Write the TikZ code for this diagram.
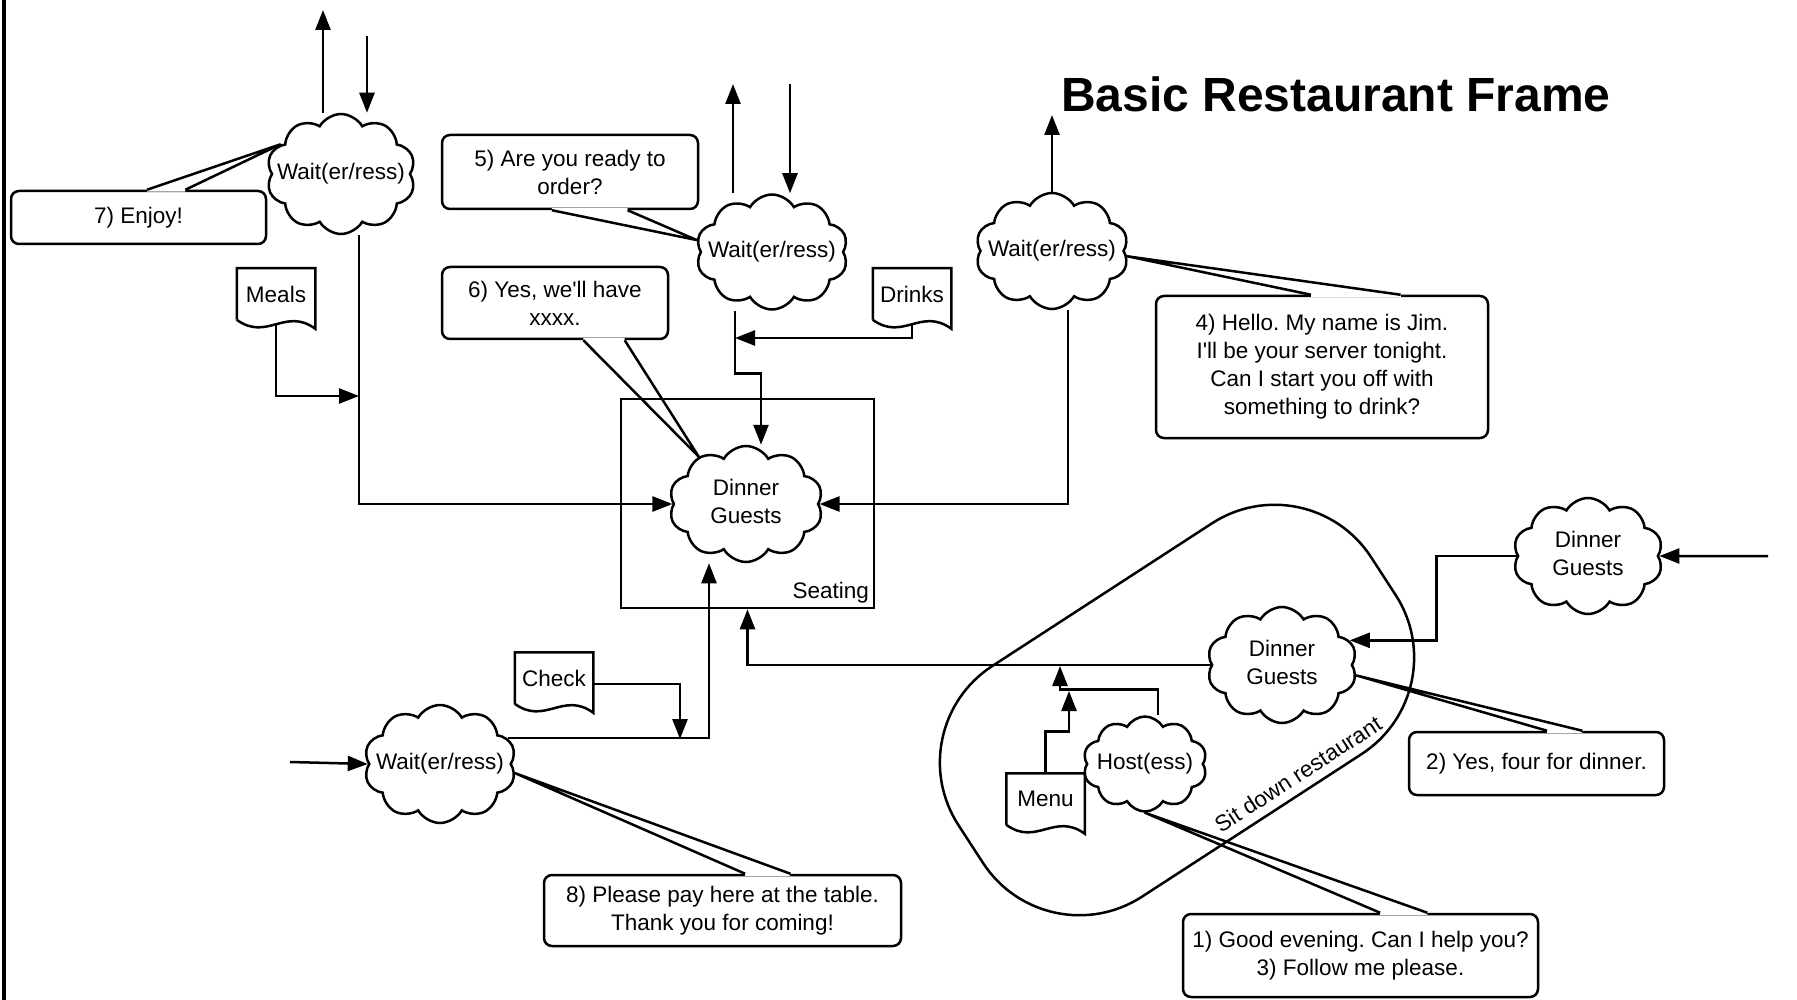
\documentclass[tikz,border=0pt]{standalone}
\usepackage{fontspec}
\setmainfont{Liberation Sans}
\usepackage{tikz}
\usetikzlibrary{arrows.meta,shapes.symbols,calc}
\frenchspacing
\tikzstyle{arr}=[->,>={Triangle[length=20pt,width=15pt]}]
\tikzstyle{wolk}=[draw,cloud,cloud puffs=10,cloud puff arc=120,cloud ignores aspect,inner sep=0,minimum width=150,minimum height=116]
\tikzstyle{bubble}=[draw,rounded corners=8,align=center,inner sep=0]
\tikzstyle{docbox}=[minimum width=76,minimum height=49,inner sep=0]
\newcommand{\ctxt}[1]{\makebox[0pt]{\begin{tabular}{@{}c@{}}#1\end{tabular}}}
\newcommand{\docnode}[3]{\node[docbox] (#1) at (#2) {#3};
  \draw (#1.south west) -- (#1.north west) -- (#1.north east) -- ([yshift=-9pt]#1.south east)
    .. controls +(-30,-22) and +(30,22) .. (#1.south west);}
\newcommand{\tail}[5]{\draw[white,line width=4pt] ($(#1.#2 west)!#3!(#1.#2 east)$) -- ($(#1.#2 west)!#4!(#1.#2 east)$);
  \draw[line join=round] ($(#1.#2 west)!#3!(#1.#2 east)$) -- (#5) -- ($(#1.#2 west)!#4!(#1.#2 east)$);}

\begin{document}
\begin{tikzpicture}[x=1pt,y=-1pt,line width=2.5pt,font=\fontsize{22.5}{28}\selectfont]
  \useasboundingbox (0,0) rectangle (1797,1000);
  \draw[line width=4pt] (4,0) -- (4,1000);
  \node[font=\fontsize{48}{56}\selectfont\bfseries] (title) at (1336,94) {Basic Restaurant Frame};

  % restaurant and seating
  \node[draw,rounded corners=115,minimum width=492,minimum height=275,rotate=33] (rest) at (1177,710) {};
  \node[rotate=33] (sdr) at (1298,774) {Sit down restaurant};
  \node[draw,minimum width=253,minimum height=209,
        label={[anchor=south east,inner sep=5pt]south east:Seating}] (seat) at (747.5,503.5) {};

  \node[wolk,minimum width=149,minimum height=120] (w1) at (341,174) {\ctxt{Wait(er/ress)}};
  \node[wolk,minimum width=152,minimum height=115] (w2) at (772,252) {\ctxt{Wait(er/ress)}};
  \node[wolk,minimum width=153,minimum height=116] (w3) at (1052,251) {\ctxt{Wait(er/ress)}};
  \node[wolk,minimum width=152,minimum height=118] (w4) at (440,764) {\ctxt{Wait(er/ress)}};
  \node[wolk,minimum width=154,minimum height=116] (dg1) at (746,504) {\ctxt{Dinner\\Guests}};
  \node[wolk] (dg2) at (1282,665) {\ctxt{Dinner\\Guests}};
  \node[wolk] (dg3) at (1588,556) {\ctxt{Dinner\\Guests}};
  \node[wolk,minimum width=124,minimum height=95] (host) at (1145,764) {\ctxt{Host(ess)}};

  \docnode{meals}{276,294}{Meals}
  \docnode{drinks}{912,294}{Drinks}
  \docnode{check}{554,678}{Check}
  \docnode{menu}{1045.5,799}{Menu}

  \node[bubble,minimum width=255,minimum height=53] (b7) at (138.5,217.5) {7) Enjoy!};
  \node[bubble,minimum width=256,minimum height=74] (b5) at (570,172) {5) Are you ready to\\order?};
  \node[bubble,minimum width=226,minimum height=72] (b6) at (555,303) {6) Yes, we\textquotesingle ll have\\xxxx.};
  \node[bubble,minimum width=332,minimum height=142] (b4) at (1322,367)
    {4) Hello. My name is Jim.\\I\textquotesingle ll be your server tonight.\\Can I start you off with\\something to drink?};
  \node[bubble,minimum width=255,minimum height=63] (b2) at (1536.5,763.5) {2) Yes, four for dinner.};
  \node[bubble,minimum width=355,minimum height=83] (b13) at (1360.5,955.5) {1) Good evening. Can I help you?\\3) Follow me please.};
  \node[bubble,minimum width=357,minimum height=71] (b8) at (722.5,910.5) {8) Please pay here at the table.\\Thank you for coming!};

  \tail{b7}{north}{0.533}{0.682}{w1.154}
  \tail{b5}{south}{0.43}{0.723}{w2.171}
  \tail{b6}{south}{0.624}{0.805}{dg1.135}
  \tail{b4}{north}{0.467}{0.735}{w3.-4}
  \tail{b2}{north}{0.541}{0.678}{dg2.-8}
  \tail{b13}{north}{0.555}{0.687}{host.south}
  \tail{b8}{north}{0.563}{0.689}{w4.-7}

  \coordinate (w1out) at (323,10);
  \coordinate (w1in) at (367,36);
  \coordinate (w2out) at (733,84);
  \coordinate (w2in) at (790,84);
  \coordinate (w3out) at (1052,115);
  \coordinate (dg3in) at (1768,556);
  \coordinate (w4in) at (290,762);
  \coordinate (mj) at (359,396);
  \coordinate (dj) at (735,338);
  \coordinate (cj) at (680,739);
  \coordinate (hj) at (1060,666);
  \coordinate (mnj) at (1069,691);

  \draw[arr] (w1out |- w1.north) -- (w1out);
  \draw[arr] (w1in) -- (w1in |- w1.north);
  \draw[arr] (w2out |- w2.north) -- (w2out);
  \draw[arr] (w2in) -- (w2in |- w2.north);
  \draw[arr] (w3.north) -- (w3out);
  \draw[arr] (dg3in) -- (dg3.east);
  \draw[arr] (w4in) -- (w4.west);

  \draw[arr] ([xshift=18pt]w1.south) |- (dg1.west);
  \draw[arr] ([yshift=-5pt]meals.south) |- (mj);
  \draw[arr] ([xshift=-37pt]w2.south) -- ++(0,63) -| ([xshift=15pt]dg1.north);
  \draw[arr] ([yshift=-5pt]drinks.south) |- (dj);
  \draw[arr] ([xshift=16pt]w3.south) |- (dg1.east);
  \draw[arr] (w4.21) -| ([xshift=-37pt]dg1.south);
  \draw[arr] ([yshift=-6pt]check.east) -| (cj);
  \draw[arr] (dg2.west) -| (seat.south);
  \draw[arr] ([xshift=13pt]host.north) -- ++(0,-26) -| (hj);
  \draw[arr] (menu.north) -- ++(0,-42) -| (mnj);
  \draw[arr] (dg3.west) -- ++(-80,0) |- (dg2.20);
\end{tikzpicture}
\end{document}
